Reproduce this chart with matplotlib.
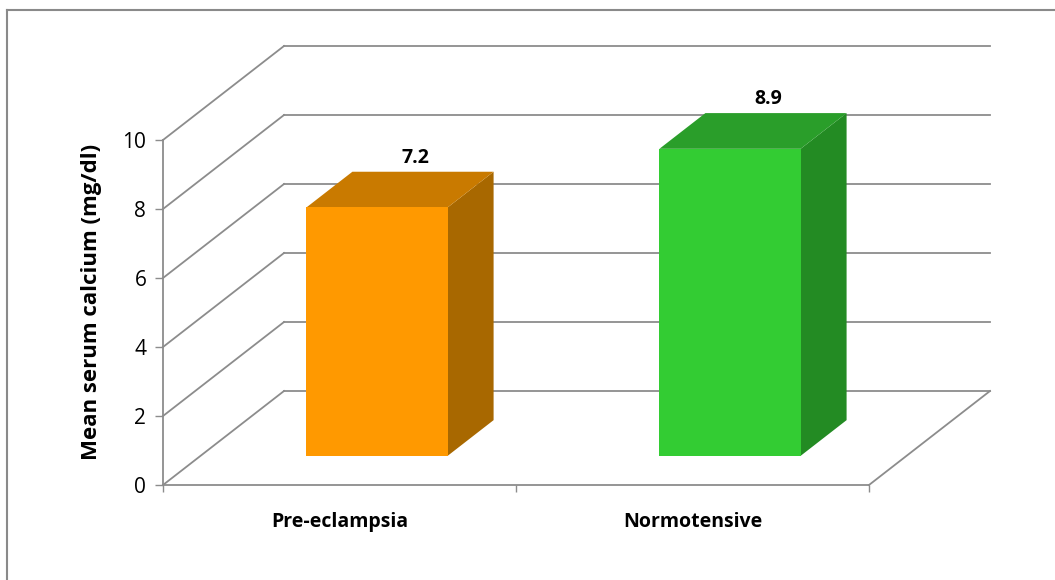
import matplotlib
matplotlib.use("Agg")
import matplotlib.pyplot as plt
from matplotlib.patches import Polygon
from matplotlib.lines import Line2D
from matplotlib.transforms import IdentityTransform

plt.rcParams['font.family'] = ['Open Sans', 'DejaVu Sans']

# data
categories = ["Pre-eclampsia", "Normotensive"]
values = [7.2, 8.9]
value_labels = ["7.2", "8.9"]
y_ticks = [0, 2, 4, 6, 8, 10]
y_label = "Mean serum calcium (mg/dl)"

# styling
front_colors = ["#FF9900", "#33CC33"]
top_colors = ["#C97A00", "#2A9E2A"]
side_colors = ["#A86800", "#238B23"]
grid_color = "#8C8C8C"

W, H, DPI = 1055, 580, 100
fig = plt.figure(figsize=(W / DPI, H / DPI), dpi=DPI)
fig.patch.set_facecolor("white")

# front plane of the 3-D box
ax = fig.add_axes([163 / W, 95 / H, 706 / W, 345 / H])
ax.set_autoscale_on(False)
ax.set_xlim(0, 2)
ax.set_ylim(0, 10)
ax.patch.set_visible(False)

# depth vector of the box in display pixels
DX, DY = 121.0, 94.0


def proj(x, v, d):
    px, py = ax.transData.transform((x, v))
    return (px + DX * d, py + DY * d)


def line(p, q, **kw):
    ln = Line2D([p[0], q[0]], [p[1], q[1]], transform=IdentityTransform(),
                color=grid_color, lw=1.3, clip_on=False, zorder=1, **kw)
    ax.add_line(ln)


# side wall diagonals and back wall gridlines
for v in y_ticks:
    line(proj(0, v, 0), proj(0, v, 1))
    line(proj(0, v, 1), proj(2, v, 1))
# floor right edge
line(proj(2, 0, 0), proj(2, 0, 1))

# bars
bar_w = 0.4
d0, d1 = 0.31, 0.69
for i, (val, lab) in enumerate(zip(values, value_labels)):
    xc = i + 0.5
    x0, x1 = xc - bar_w / 2, xc + bar_w / 2
    front = [proj(x0, 0, d0), proj(x1, 0, d0), proj(x1, val, d0), proj(x0, val, d0)]
    top = [proj(x0, val, d0), proj(x1, val, d0), proj(x1, val, d1), proj(x0, val, d1)]
    side = [proj(x1, 0, d0), proj(x1, 0, d1), proj(x1, val, d1), proj(x1, val, d0)]
    for pts, col in ((side, side_colors[i]), (top, top_colors[i]), (front, front_colors[i])):
        ax.add_patch(Polygon(pts, closed=True, facecolor=col, edgecolor="none",
                             transform=IdentityTransform(), clip_on=False, zorder=3))
    lx, ly = proj(xc, val, d1)
    ax.text(lx - 8, ly + 4, lab, transform=IdentityTransform(), ha="center",
            va="bottom", fontsize=14, fontweight="bold", color="black", zorder=4)

# axes lines and ticks
for s in ("top", "right"):
    ax.spines[s].set_visible(False)
for s in ("left", "bottom"):
    ax.spines[s].set_color(grid_color)
    ax.spines[s].set_linewidth(1.3)
ax.set_yticks(y_ticks)
ax.set_yticklabels([str(t) for t in y_ticks])
ax.set_xticks([0, 1, 2])
ax.set_xticklabels(["", "", ""])
ax.tick_params(axis="y", direction="out", length=6, width=1.0, color=grid_color,
               pad=6, labelsize=15, labelcolor="black")
ax.tick_params(axis="x", direction="out", length=5, width=1.0, color=grid_color)

for i, cat in enumerate(categories):
    ax.annotate(cat, xy=(i + 0.5, 0), xytext=(0, -37), textcoords="offset pixels",
                ha="center", va="center", fontsize=14, fontweight="bold",
                annotation_clip=False)

fig.text(92 / W, 1 - 302 / H, y_label, rotation=90, ha="center", va="center",
         fontsize=16, fontweight="bold")

# outer frame (left and top edges)
fig.add_artist(Line2D([7 / W, 7 / W], [0, 1 - 10 / H], transform=fig.transFigure,
                      color="#8A8A8A", lw=1.5))
fig.add_artist(Line2D([7 / W, 1], [1 - 10 / H, 1 - 10 / H], transform=fig.transFigure,
                      color="#8A8A8A", lw=1.5))

fig.savefig("out.png", dpi=DPI)
